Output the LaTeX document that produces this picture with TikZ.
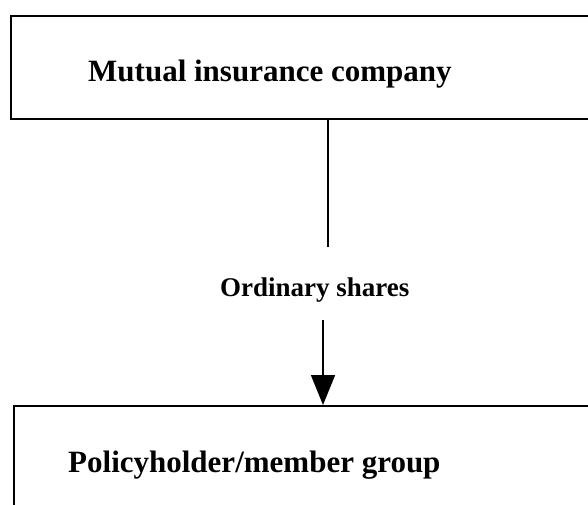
\documentclass[tikz,border=0pt]{standalone}
\usepackage{fontspec}
\setmainfont{Liberation Serif}
\usetikzlibrary{arrows.meta}
\begin{document}
\begin{tikzpicture}[x=1pt,y=-1pt,
  boxline/.style={draw=black,line width=2pt},
  bigtext/.style={inner sep=0pt,anchor=base west,font=\fontsize{31}{36}\selectfont\bfseries},
  smalltext/.style={inner sep=0pt,anchor=base west,font=\fontsize{27}{32}\selectfont\bfseries},
  conn/.style={draw=black,line width=1.6pt},
  arr/.style={conn,-{Triangle[length=30pt,width=24pt]}}]
\useasboundingbox (0,0) rectangle (588,505);
\fill[white] (0,0) rectangle (588,505);
% boxes
\node[boxline,rectangle,minimum width=600pt,minimum height=103pt,anchor=north west,inner sep=0pt] (topbox) at (10,15) {};
\node[boxline,rectangle,minimum width=600pt,minimum height=150pt,anchor=north west,inner sep=0pt] (botbox) at (13,405) {};
% texts
\node[bigtext] (toptext) at (88,82) {Mutual insurance company};
\node[bigtext] (bottext) at (68,472) {Policyholder/member group};
\node[smalltext] (label) at (220,296) {Ordinary shares};
% connectors
\coordinate (lineend) at (328,247);
\coordinate (arrstart) at (323,320);
\draw[conn] (topbox.south -| lineend) -- (lineend);
\draw[arr] (arrstart) -- (arrstart |- botbox.north);
\end{tikzpicture}
\end{document}
